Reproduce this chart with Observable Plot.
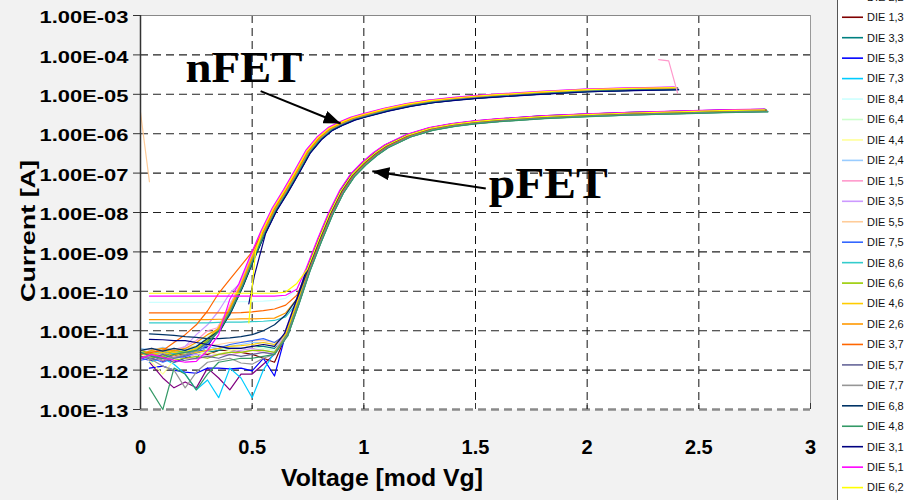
<!DOCTYPE html>
<html><head><meta charset="utf-8">
<script src="https://cdn.jsdelivr.net/npm/d3@7"></script>
<script src="https://cdn.jsdelivr.net/npm/@observablehq/plot@0.6"></script>
<style>
html,body{margin:0;padding:0;background:#f2f2f2;}
#wrap{position:relative;width:913px;height:500px;overflow:hidden;background:#f2f2f2;}
#legend{position:absolute;left:837px;top:0;}
</style></head><body><div id="wrap"></div>
<script>
// ---------------- data (log10 of current in A) ----------------
const xTicks = [0, 0.5, 1, 1.5, 2, 2.5, 3];
const xTickLabels = ["0", "0.5", "1", "1.5", "2", "2.5", "3"];
const yTicks = [1e-13, 1e-12, 1e-11, 1e-10, 1e-9, 1e-8, 1e-7, 1e-6, 1e-5, 1e-4, 1e-3];
const yTickLabels = ["1.00E-13","1.00E-12","1.00E-11","1.00E-10","1.00E-09","1.00E-08","1.00E-07","1.00E-06","1.00E-05","1.00E-04","1.00E-03"];

const dieNames = ["DIE 2,2","DIE 1,3","DIE 3,3","DIE 5,3","DIE 7,3","DIE 8,4","DIE 6,4","DIE 4,4","DIE 2,4","DIE 1,5","DIE 3,5","DIE 5,5","DIE 7,5","DIE 8,6","DIE 6,6","DIE 4,6","DIE 2,6","DIE 3,7","DIE 5,7","DIE 7,7","DIE 6,8","DIE 4,8","DIE 3,1","DIE 5,1","DIE 6,2"];
const dieColors = ["#800080","#800000","#008080","#0000ff","#00ccff","#ccffff","#ccffcc","#ffff99","#99ccff","#ff99cc","#cc99ff","#ffcc99","#3366ff","#33cccc","#99cc00","#ffcc00","#ff9900","#ff6600","#666699","#969696","#003366","#339966","#000080","#ff00ff","#ffff00"];

// common above-threshold curves (bundle)
const nGrid   = [0.35,0.4,0.45,0.5,0.55,0.6,0.65,0.7,0.75,0.8,0.85,0.9,0.95,1.0,1.1,1.2,1.3,1.4,1.5,1.6,1.8,2.0,2.2,2.4];
const nBundle = [-10.95,-10.45,-9.85,-9.15,-8.5,-7.92,-7.46,-6.97,-6.46,-6.12,-5.88,-5.74,-5.62,-5.54,-5.39,-5.27,-5.18,-5.12,-5.07,-5.03,-4.96,-4.9,-4.87,-4.85];
const pGrid   = [0.65,0.7,0.75,0.8,0.85,0.9,0.95,1.0,1.05,1.1,1.2,1.3,1.4,1.5,1.6,1.8,2.0,2.2,2.4,2.6,2.8];
const pBundle = [-11.1,-10.3,-9.45,-8.72,-8.04,-7.47,-7.05,-6.76,-6.52,-6.32,-6.05,-5.88,-5.78,-5.71,-5.66,-5.58,-5.53,-5.49,-5.46,-5.43,-5.41];

// per-die spread of the bundle: [dV, dlog]
const nShift = [[0.005,0.015],[0,-0.01],[0.008,-0.03],[-0.003,0.01],[0.003,0],[-0.005,0.02],[0.002,-0.005],[0,0.01],[0.006,-0.015],[-0.006,0.025],[-0.008,0.03],[0.003,0],[0.005,-0.01],[0.006,-0.02],[0.002,0.005],[-0.002,0.015],[0,0],[-0.003,0.01],[0.008,-0.02],[0.005,-0.015],[0.009,-0.03],[0.006,-0.025],[0.01,-0.035],[-0.01,0.035],[-0.005,0.02]];
const pShift = [[0,0.025],[0.003,-0.01],[0.009,-0.03],[0,0.015],[0.006,-0.015],[-0.003,0.02],[0.005,0],[0.002,0.01],[0.008,-0.02],[-0.005,0.025],[-0.006,0.03],[0.002,0],[0.003,0.005],[0.008,-0.025],[0.003,-0.01],[0,0.01],[0.003,-0.005],[0.002,0],[0.006,-0.02],[0.008,-0.03],[0,0.015],[0.009,-0.035],[-0.005,0.03],[-0.008,0.035],[-0.003,0.015]];

// nFET sub-threshold / leakage part, [V, log10 I]
const nLow = [
 [[0,-11.72],[.05,-11.6],[.1,-11.78],[.15,-11.62],[.2,-11.7],[.25,-11.5],[.3,-11.25]],
 [[0,-11.55],[.05,-11.62],[.1,-11.5],[.15,-11.66],[.2,-11.55],[.25,-11.6],[.3,-11.4]],
 [[0,-11.62],[.05,-11.7],[.1,-11.58],[.15,-11.66],[.2,-11.7],[.25,-11.7],[.3,-11.35],[.35,-11.0],[.4,-10.6]],
 [[0,-11.7],[.05,-11.76],[.1,-11.68],[.15,-11.8],[.2,-11.7],[.25,-11.58],[.3,-11.4]],
 [[0,-11.6],[.05,-11.52],[.1,-11.66],[.15,-11.58],[.2,-11.55],[.25,-11.48],[.3,-11.25]],
 [[0,-11.5],[.05,-11.45],[.1,-11.55],[.15,-11.5],[.2,-11.45],[.25,-11.35],[.3,-11.15]],
 [[0,-11.65],[.05,-11.55],[.1,-11.62],[.15,-11.5],[.2,-11.58],[.25,-11.5],[.3,-11.3]],
 [[0,-11.58],[.05,-11.8],[.1,-12.1],[.15,-11.75],[.2,-11.6],[.25,-11.5],[.3,-11.3]],
 [[0,-11.45],[.05,-11.5],[.1,-11.42],[.15,-11.5],[.2,-11.45],[.25,-11.4],[.3,-11.2]],
 [[0,-11.52],[.05,-11.45],[.1,-11.55],[.15,-11.48],[.2,-11.4],[.25,-11.25],[.3,-11.0]],
 [[0,-11.7],[.05,-11.65],[.1,-11.6],[.15,-11.55],[.2,-11.4],[.25,-11.1],[.3,-10.85],[.35,-10.5],[.4,-10.05]],
 [[0,-11.6],[.05,-11.55],[.1,-11.5],[.15,-11.6],[.2,-11.5],[.25,-11.4],[.3,-11.2]],
 [[0,-11.75],[.05,-11.7],[.1,-11.8],[.15,-11.7],[.2,-11.65],[.25,-11.55],[.3,-11.35]],
 [[0,-11.55],[.05,-11.6],[.1,-11.5],[.15,-11.58],[.2,-11.5],[.25,-11.42],[.3,-11.2]],
 [[0,-11.5],[.05,-11.58],[.1,-11.65],[.15,-11.5],[.2,-11.55],[.25,-11.45],[.3,-11.25]],
 [[0,-11.68],[.05,-11.6],[.1,-11.55],[.15,-11.62],[.2,-11.55],[.25,-11.45],[.3,-11.2]],
 [[0,-11.6],[.05,-11.5],[.1,-11.45],[.15,-11.52],[.2,-11.45],[.25,-11.3],[.3,-11.1]],
 [[0,-11.6],[.05,-11.55],[.1,-11.5],[.15,-11.3],[.2,-11.1],[.25,-10.85],[.3,-10.5],[.35,-10.05],[.4,-9.7],[.45,-9.35],[.5,-9.0]],
 [[0,-11.65],[.05,-11.72],[.1,-11.6],[.15,-11.7],[.2,-11.62],[.25,-11.5],[.3,-11.3]],
 [[0,-11.7],[.05,-11.62],[.1,-11.75],[.15,-11.68],[.2,-11.6],[.25,-11.52],[.3,-11.3]],
 [[0,-11.5],[.05,-11.45],[.1,-11.52],[.15,-11.45],[.2,-11.5],[.25,-11.4],[.3,-11.2]],
 [[0,-11.55],[.05,-11.65],[.1,-11.7],[.15,-11.6],[.2,-11.55],[.25,-11.5],[.3,-11.3]],
 [[.485,-10.32],[.51,-9.6]],
 [[0,-11.7],[.05,-11.6],[.1,-11.68],[.15,-11.75],[.2,-11.8],[.25,-11.78],[.3,-11.5],[.35,-11.1],[.4,-10.2]],
 [[.485,-10.8],[.515,-9.0]]
];

// pFET leakage part on pLowGrid
const pLowGrid = [0.04,0.1,0.15,0.2,0.25,0.3,0.35,0.4,0.45,0.5,0.55,0.6,0.65,0.7];
const pLow = [
 [-11.8,-12.2,-12.45,-12.3,-12.45,-11.95,-12.2,-12.5,-12.1,-12.1,-11.85,-11.6],
 [-11.6,-11.55,-11.65,-11.6,-11.55,-11.6,-11.5,-11.5,-11.55,-11.6,-11.7,-11.8],
 [-11.5,-11.45,-11.5,-11.55,-11.5,-11.55,-11.5,-11.45,-11.45,-11.4,-11.4,-11.45],
 [-11.95,-11.9,-12.0,-12.05,-12.08,-11.95,-11.95,-11.97,-11.95,-12.02,-11.7,-12.15],
 [-11.8,-11.7,-11.85,-12.1,-12.5,-12.25,-12.7,-11.95,-12.2,-12.7,-12.0,-11.55],
 [-10.28,-10.28,-10.28,-10.28,-10.28,-10.27,-10.27,-10.27,-10.26,-10.26,-10.25,-10.23,-10.18,-9.95],
 [-11.55,-11.6,-11.5,-11.55,-11.6,-11.5,-11.45,-11.5,-11.45,-11.4,-11.45,-11.5],
 [-11.65,-11.7,-11.6,-11.65,-11.6,-11.55,-11.6,-11.5,-11.45,-11.4,-11.35,-11.4],
 [-11.6,-11.55,-11.5,-11.55,-11.5,-11.45,-11.4,-11.4,-11.35,-11.3,-11.3,-11.35],
 [-11.7,-11.75,-11.65,-11.7,-11.72,-11.65,-11.6,-11.62,-11.55,-11.5,-11.55,-11.6],
 [-11.65,-11.6,-11.7,-11.65,-11.6,-11.65,-11.6,-11.55,-11.5,-11.45,-11.5,-11.55],
 [-11.5,-11.45,-11.5,-11.45,-11.4,-11.38,-11.35,-11.3,-11.28,-11.25,-11.25,-11.3],
 [-11.6,-11.55,-11.6,-11.55,-11.55,-11.5,-11.45,-11.35,-11.3,-11.25,-11.2,-11.3],
 [-10.8,-10.8,-10.8,-10.8,-10.8,-10.8,-10.79,-10.78,-10.78,-10.77,-10.76,-10.74,-10.65,-10.3],
 [-11.7,-11.65,-11.75,-11.7,-11.65,-11.7,-11.6,-11.55,-11.55,-11.5,-11.5,-11.55],
 [-11.55,-11.5,-11.55,-11.6,-11.55,-11.5,-11.45,-11.4,-11.38,-11.35,-11.3,-11.35],
 [-10.72,-10.72,-10.72,-10.72,-10.72,-10.72,-10.71,-10.71,-10.7,-10.7,-10.69,-10.68,-10.55,-10.2],
 [-10.55,-10.55,-10.55,-10.55,-10.55,-10.55,-10.55,-10.55,-10.54,-10.52,-10.49,-10.45,-10.35,-10.1],
 [-11.75,-11.7,-11.8,-11.75,-11.7,-11.65,-11.7,-11.6,-11.65,-11.6,-11.55,-11.6],
 [-11.7,-11.9,-12.0,-12.45,-12.05,-11.8,-11.75,-11.7,-11.82,-11.85,-11.7,-11.6],
 [-11.08,-11.1,-11.12,-11.15,-11.17,-11.2,-11.2,-11.18,-11.15,-11.1,-11.0,-10.85,-10.6,-10.2],
 [-12.45,-13.0,-11.95,-12.1,-12.5,-12.1,-11.8,-11.75,-11.7,-11.7,-11.65,-11.6],
 [-11.22,-11.23,-11.25,-11.25,-11.3,-11.35,-11.4,-11.45,-11.45,-11.4,-11.35,-11.4],
 [-10.12,-10.12,-10.12,-10.12,-10.12,-10.12,-10.12,-10.12,-10.12,-10.12,-10.12,-10.12,-10.1,-9.95],
 [-10.05,-10.05,-10.05,-10.05,-10.05,-10.05,-10.05,-10.05,-10.05,-10.05,-10.05,-10.05,-10.02,-9.8]
];

// stray trace pieces
const extraDie = ["DIE 5,5", "DIE 1,5"];
const extraPts = [[[0,-5.46],[0.04,-7.22]], [[2.32,-4.12],[2.365,-4.15],[2.405,-4.97]]];

// annotations
const annoText = ["nFET", "pFET"];
const annoAt = [[0.2016,-4.693],[1.559,-7.62]];
const arrowFrom = [[0.538,-4.921],[1.546,-7.391]];
const arrowTo = [[0.896,-5.741],[1.038,-6.952]];

// ---------------- build tables ----------------
const rows = [];
dieNames.forEach((name, d) => {
  const color = dieColors[d];
  const nl = nLow[d], nLast = nl[nl.length - 1][0];
  const np = nl.slice();
  nGrid.forEach((v, i) => { if (v > nLast + 1e-9) np.push([v + nShift[d][0], nBundle[i] + nShift[d][1]]); });
  np.forEach(([v, l]) => rows.push({key: name + " n", v, i: 10 ** l, color}));
  const pl = pLow[d], pLast = pLowGrid[pl.length - 1];
  const pp = pl.map((l, k) => [pLowGrid[k], l]);
  pGrid.forEach((v, i) => { if (v > pLast + 1e-9) pp.push([v + pShift[d][0], pBundle[i] + pShift[d][1]]); });
  pp.forEach(([v, l]) => rows.push({key: name + " p", v, i: 10 ** l, color}));
});
extraDie.forEach((name, k) => {
  const color = dieColors[dieNames.indexOf(name)];
  extraPts[k].forEach(([v, l]) => rows.push({key: name + " x" + k, v, i: 10 ** l, color}));
});
const annos = annoText.map((t, k) => ({t, x: annoAt[k][0], y: 10 ** annoAt[k][1]}));
const arrows = arrowFrom.map((f, k) => ({x1: f[0], y1: 10 ** f[1], x2: arrowTo[k][0], y2: 10 ** arrowTo[k][1]}));

// ---------------- plot ----------------
const plot = Plot.plot({
  width: 913, height: 500,
  marginLeft: 140, marginRight: 103, marginTop: 15, marginBottom: 91,
  style: {background: "transparent", fontFamily: "'Liberation Sans', Arial, sans-serif", fontSize: "16px", fontWeight: "bold", color: "#000", overflow: "visible"},
  x: {domain: [xTicks[0], xTicks[xTicks.length - 1]]},
  y: {type: "log", domain: [yTicks[0], yTicks[yTicks.length - 1]]},
  color: {type: "identity"},
  marks: [
    Plot.frame({fill: "white"}),
    Plot.gridY(yTicks.slice(1, -1), {stroke: "#222", strokeOpacity: 1, strokeWidth: 1.1, strokeDasharray: "8,5"}),
    Plot.gridY([yTicks[0]], {stroke: "#8a8a8a", strokeOpacity: 1, strokeWidth: 2.5, strokeDasharray: "8,5"}),
    Plot.gridX(xTicks.slice(1, -1), {stroke: "#111", strokeOpacity: 1, strokeWidth: 1, strokeDasharray: "8,5"}),
    Plot.ruleY([yTicks[yTicks.length - 1]], {stroke: "#888"}),
    Plot.ruleX([xTicks[xTicks.length - 1]], {stroke: "#999"}),
    Plot.line(rows, {x: "v", y: "i", z: "key", stroke: "color", strokeWidth: 1.2}),
    Plot.link(arrows, {x1: "x1", y1: "y1", x2: "x2", y2: "y2", stroke: "black", strokeWidth: 2}),
    Plot.text(annos, {x: "x", y: "y", text: "t", textAnchor: "start", lineAnchor: "bottom", fontFamily: "'Liberation Serif', 'Times New Roman', serif", fontSize: 44, fontWeight: "bold", fill: "black"}),
    Plot.ruleX([xTicks[0]], {stroke: "#333", strokeWidth: 1.5}),
    Plot.ruleX(xTicks, {insetTop: 388, stroke: "#333"}),
    Plot.axisY(yTicks, {tickSize: 7, tickPadding: 5, stroke: "#333", tickFormat: d => yTickLabels[yTicks.indexOf(d)], label: null}),
    Plot.axisX(xTicks, {tickSize: 0, tickPadding: 30, fontSize: 20, tickFormat: d => xTickLabels[xTicks.indexOf(d)], label: null})
  ]
});

const wrap = document.getElementById("wrap");
wrap.appendChild(plot);
const svg = d3.select(plot);

// arrowhead marker
const defs = svg.insert("defs", ":first-child");
defs.append("marker").attr("id", "ah").attr("viewBox", "0 0 10 10").attr("refX", 10).attr("refY", 5)
  .attr("markerWidth", 17).attr("markerHeight", 13).attr("markerUnits", "userSpaceOnUse")
  .attr("orient", "auto").attr("preserveAspectRatio", "none")
  .append("path").attr("d", "M0,0L10,5L0,10z").attr("fill", "black");
svg.selectAll('g[aria-label="link"] path').attr("marker-end", "url(#ah)");

// text widths as in the picture
function fitWidth(sel, w) { sel.each(function () { this.setAttribute("textLength", w); this.setAttribute("lengthAdjust", "spacingAndGlyphs"); }); }
fitWidth(svg.selectAll('g[aria-label="y-axis tick label"] text'), 89);
svg.selectAll('g[aria-label="y-axis tick label"]').each(function () {
  this.setAttribute("transform", (this.getAttribute("transform") || "") + " translate(0,2.5)");
});
svg.selectAll('g[aria-label="text"] text').each(function () {
  this.setAttribute("textLength", this.textContent === "nFET" ? 117 : 119);
  this.setAttribute("lengthAdjust", "spacingAndGlyphs");
});

// axis titles
svg.append("text").attr("x", 382).attr("y", 486).attr("text-anchor", "middle")
  .attr("font-size", 24).attr("font-weight", "bold").attr("textLength", 202).attr("lengthAdjust", "spacingAndGlyphs")
  .text("Voltage [mod Vg]");
svg.append("text").attr("transform", "translate(35,231) rotate(-90)").attr("text-anchor", "middle")
  .attr("font-size", 21).attr("font-weight", "bold").attr("textLength", 142).attr("lengthAdjust", "spacingAndGlyphs")
  .text("Current [A]");

// legend (scrolled list: first entry partly above the top edge, as in the picture)
const leg = d3.select(wrap).append("svg").attr("id", "legend").attr("width", 76).attr("height", 500)
  .style("font-family", "'Liberation Sans', Arial, sans-serif").style("font-size", "11px");
leg.append("rect").attr("x", 0.5).attr("y", -5).attr("width", 80).attr("height", 510).attr("fill", "white").attr("stroke", "#555");
dieNames.forEach((name, k) => {
  const y = -3.2 + k * 20.45;
  leg.append("line").attr("x1", 5).attr("x2", 26).attr("y1", y).attr("y2", y).attr("stroke", dieColors[k]).attr("stroke-width", 1.6);
  leg.append("text").attr("x", 30).attr("y", y).attr("dy", "0.35em").attr("fill", "#111").text(name);
});
</script></body></html>
